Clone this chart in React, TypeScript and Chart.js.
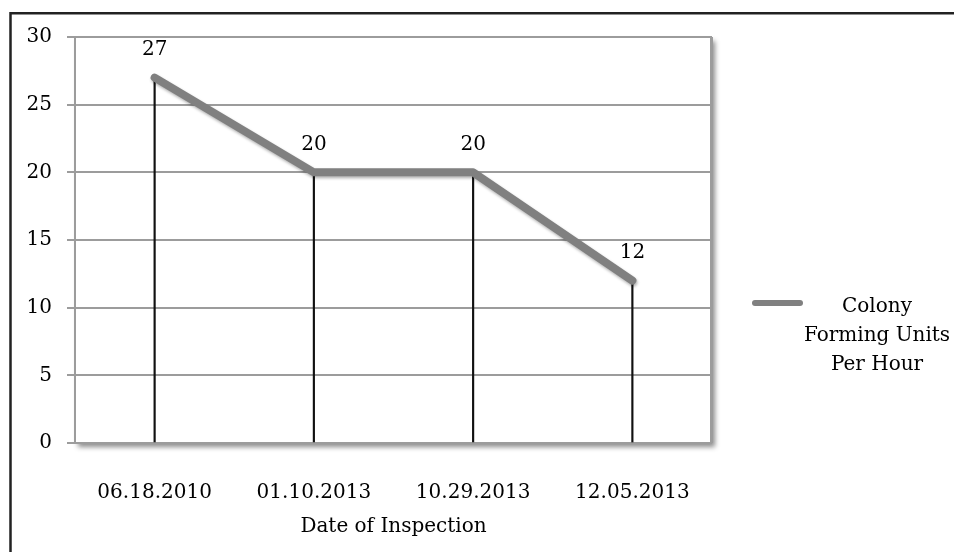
import React, { useEffect, useRef } from "react";
import { Chart, registerables } from "chart.js";

Chart.register(...registerables);

const categories = ["06.18.2010", "01.10.2013", "10.29.2013", "12.05.2013"];
const cfuValues = [27, 20, 20, 12];
const seriesLabel = ["Colony", "Forming Units", "Per Hour"];
const yTicks = [0, 5, 10, 15, 20, 25, 30];
const xTitle = "Date of Inspection";

const FONT = "'DejaVu Serif', serif";
const LINE_COLOR = "#808080";
const GRID_COLOR = "#9c9c9c";
const TEXT_COLOR = "#000";

const decorPlugin = {
  id: "decor",
  beforeDraw(chart: any) {
    const { ctx, chartArea: a } = chart;
    ctx.save();
    ctx.shadowColor = "rgba(0,0,0,0.45)";
    ctx.shadowBlur = 5;
    ctx.shadowOffsetX = 3;
    ctx.shadowOffsetY = 4;
    ctx.fillStyle = "#ffffff";
    ctx.fillRect(a.left, a.top, a.right - a.left, a.bottom - a.top);
    ctx.restore();
  },
  beforeDatasetDraw(chart: any, args: any) {
    if (args.meta.type === "line") {
      const ctx = chart.ctx;
      ctx.shadowColor = "rgba(0,0,0,0.3)";
      ctx.shadowBlur = 3;
      ctx.shadowOffsetX = 1;
      ctx.shadowOffsetY = 2;
    }
  },
  afterDatasetDraw(chart: any) {
    const ctx = chart.ctx;
    ctx.shadowColor = "rgba(0,0,0,0)";
    ctx.shadowBlur = 0;
    ctx.shadowOffsetX = 0;
    ctx.shadowOffsetY = 0;
  },
  afterDraw(chart: any) {
    const { ctx, chartArea: a } = chart;
    ctx.save();
    // right border of plot area
    ctx.strokeStyle = GRID_COLOR;
    ctx.lineWidth = 3;
    ctx.beginPath();
    ctx.moveTo(a.right - 0.5, a.top);
    ctx.lineTo(a.right - 0.5, a.bottom);
    ctx.stroke();

    // data labels
    const meta = chart.getDatasetMeta(1);
    ctx.fillStyle = TEXT_COLOR;
    ctx.font = "20px " + FONT;
    ctx.textAlign = "center";
    ctx.textBaseline = "middle";
    meta.data.forEach((pt: any, i: number) => {
      ctx.fillText(String(cfuValues[i]), pt.x, pt.y - 28);
    });

    // legend
    ctx.strokeStyle = LINE_COLOR;
    ctx.lineWidth = 6;
    ctx.lineCap = "round";
    ctx.beginPath();
    ctx.moveTo(755, 303);
    ctx.lineTo(800, 303);
    ctx.stroke();
    ctx.fillStyle = TEXT_COLOR;
    seriesLabel.forEach((t, i) => {
      ctx.fillText(t, 877, 307 + i * 29);
    });

    // outer frame
    ctx.strokeStyle = "#222";
    ctx.lineWidth = 2.5;
    ctx.lineCap = "butt";
    ctx.beginPath();
    ctx.moveTo(10.5, 560);
    ctx.lineTo(10.5, 13.3);
    ctx.lineTo(960, 13.3);
    ctx.stroke();
    ctx.restore();
  },
};

export default function App() {
  const ref = useRef<HTMLCanvasElement | null>(null);
  useEffect(() => {
    if (!ref.current) return;
    const chart = new Chart(ref.current, {
      data: {
        labels: categories,
        datasets: [
          {
            type: "bar",
            label: "drop",
            data: cfuValues,
            backgroundColor: "#111",
            barThickness: 1.5,
            order: 2,
          },
          {
            type: "line",
            label: seriesLabel.join(" "),
            data: cfuValues,
            borderColor: LINE_COLOR,
            borderWidth: 8,
            borderCapStyle: "round",
            borderJoinStyle: "round",
            pointRadius: 0,
            tension: 0,
            order: 1,
          },
        ],
      } as any,
      options: {
        responsive: false,
        animation: false,
        devicePixelRatio: 1,
        layout: { padding: { left: 0, right: 242, top: 37, bottom: 0 } },
        plugins: {
          legend: { display: false },
          tooltip: { enabled: false },
        },
        scales: {
          x: {
            type: "category",
            offset: true,
            grid: { display: false },
            border: { display: false },
            ticks: {
              color: TEXT_COLOR,
              font: { family: FONT, size: 20 },
              padding: 30,
              maxRotation: 0,
            },
            title: {
              display: true,
              text: xTitle,
              color: TEXT_COLOR,
              font: { family: FONT, size: 20 },
              padding: 13,
            },
            afterFit: (s: any) => {
              s.height = 109;
            },
          },
          y: {
            min: 0,
            max: 30,
            afterBuildTicks: (s: any) => {
              s.ticks = yTicks.map((v) => ({ value: v }));
            },
            grid: {
              color: GRID_COLOR,
              lineWidth: 2,
              tickLength: 8,
              drawTicks: true,
            },
            border: { display: true, color: GRID_COLOR, width: 2 },
            ticks: {
              color: TEXT_COLOR,
              font: { family: FONT, size: 20 },
              padding: 15,
            },
            afterFit: (s: any) => {
              s.width = 75;
            },
          },
        },
      } as any,
      plugins: [decorPlugin],
    });
    return () => chart.destroy();
  }, []);
  return (
    <div style={{ position: "absolute", left: 0, top: 0, width: 954, height: 552, background: "#fff" }}>
      <canvas ref={ref} width={954} height={552} style={{ display: "block" }} />
    </div>
  );
}
